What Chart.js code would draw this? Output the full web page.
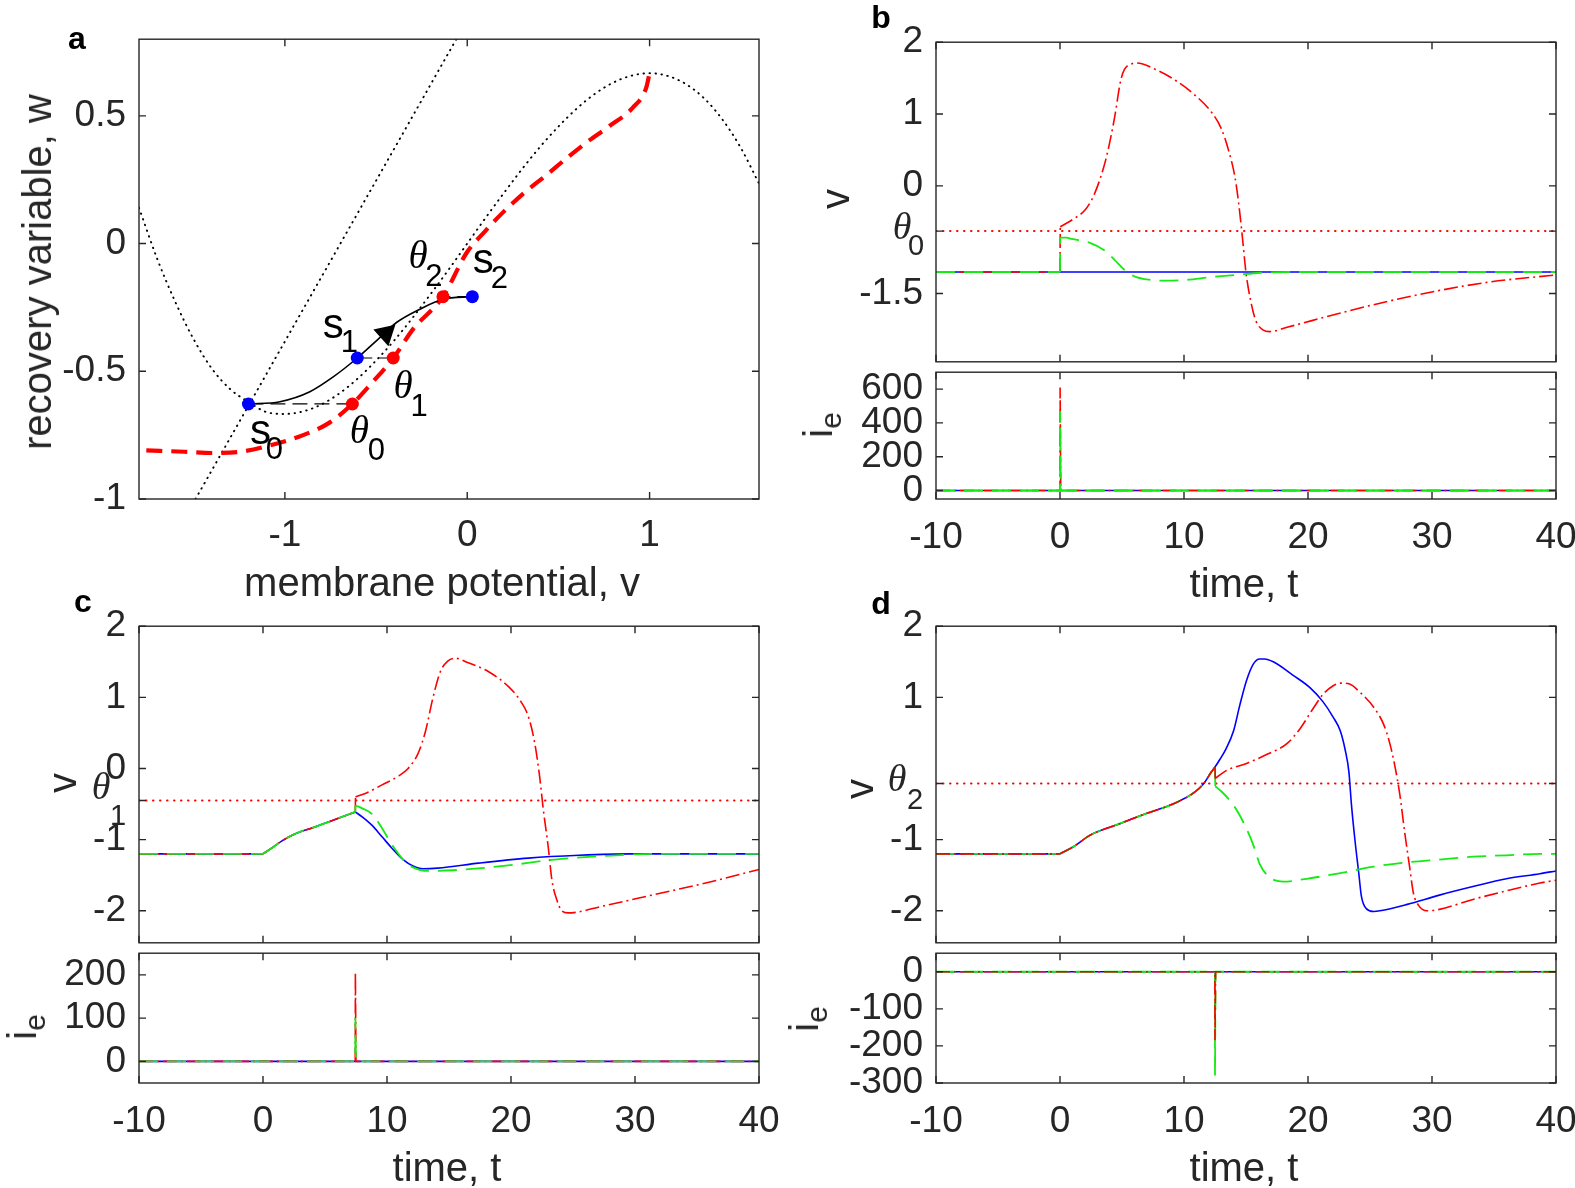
<!DOCTYPE html>
<html>
<head>
<meta charset="utf-8">
<script src="https://cdn.jsdelivr.net/npm/chart.js@4/dist/chart.umd.min.js"></script>
<style>
body{margin:0;background:#fff;width:1575px;height:1188px;position:relative;overflow:hidden;font-family:"Liberation Sans",Arial,sans-serif;color:#262626}
canvas{position:absolute}
.t{position:absolute;font-size:40px;line-height:1;white-space:nowrap;transform:translate(-50%,-50%)}
.r{transform:translate(-50%,-50%) rotate(-90deg)}
.t sub{font-size:30px;vertical-align:-9px}
.lt{position:absolute;font-weight:bold;font-size:32px;line-height:1;color:#000;transform:translate(-50%,-50%)}
</style>
</head>
<body>
<canvas id="ca"></canvas>
<canvas id="cbv"></canvas><canvas id="cbi"></canvas>
<canvas id="ccv"></canvas><canvas id="cci"></canvas>
<canvas id="cdv"></canvas><canvas id="cdi"></canvas>

<div class="lt" style="left:77px;top:38px">a</div>
<div class="lt" style="left:881px;top:17px">b</div>
<div class="lt" style="left:83px;top:601px">c</div>
<div class="lt" style="left:881px;top:603px">d</div>

<div class="t" style="left:442px;top:582px">membrane potential, v</div>
<div class="t r" style="left:37px;top:272px">recovery variable, w</div>

<div class="t r" style="left:835px;top:199px">v</div>
<div class="t r" style="left:822px;top:425px">i<sub>e</sub></div>
<div class="t" style="left:1244px;top:583px">time, t</div>

<div class="t r" style="left:62px;top:783px">v</div>
<div class="t r" style="left:26px;top:1027px">i<sub>e</sub></div>
<div class="t" style="left:447px;top:1167px">time, t</div>

<div class="t r" style="left:859px;top:789px">v</div>
<div class="t r" style="left:808px;top:1019px">i<sub>e</sub></div>
<div class="t" style="left:1244px;top:1167px">time, t</div>

<script>
// ---- panel a: phase plane ----
var cubicV = [-1.8,-1.7,-1.6,-1.5,-1.4,-1.3,-1.2,-1.1,-1.0,-0.9,-0.8,-0.7,-0.6,-0.5,-0.4,-0.3,-0.2,-0.1,0,0.1,0.2,0.3,0.4,0.5,0.6,0.7,0.8,0.9,1.0,1.1,1.2,1.3,1.4,1.5,1.6];
var cubicW = [0.14,-0.06,-0.23,-0.375,-0.49,-0.57,-0.62,-0.66,-0.667,-0.657,-0.63,-0.586,-0.528,-0.458,-0.379,-0.291,-0.197,-0.1,0,0.1,0.197,0.291,0.379,0.458,0.528,0.586,0.63,0.657,0.667,0.656,0.624,0.568,0.485,0.375,0.235];
var linNullV = [-1.49, -0.06];
var linNullW = [-1, 0.8];
var thrV = [-1.76,-1.55,-1.39,-1.245,-1.08,-0.9,-0.753,-0.63,-0.516,-0.405,-0.297,-0.133,-0.004,0.1,0.2,0.315,0.434,0.543,0.662,0.78,0.908,0.981,1.0];
var thrW = [-0.81,-0.815,-0.82,-0.815,-0.79,-0.75,-0.7,-0.628,-0.54,-0.448,-0.335,-0.208,-0.037,0.05,0.125,0.2,0.268,0.333,0.4,0.46,0.532,0.609,0.667];
var trajV = [-1.2,-1.027,-0.863,-0.735,-0.603,-0.497,-0.388,-0.26,-0.133,0.028];
var trajW = [-0.628,-0.619,-0.58,-0.522,-0.448,-0.38,-0.309,-0.257,-0.218,-0.208];
var sV = [-1.2, -0.603, 0.028];
var sW = [-0.628, -0.448, -0.208];
var thV = [-0.63, -0.406, -0.133];
var thW = [-0.628, -0.448, -0.208];
var arrowV = [-0.447], arrowW = [-0.352];

// ---- panel b ----
var bTheta = -0.63;
var bTBlue = [-10, 40], bVBlue = [-1.2, -1.2];
var bTGreen = [-10,0,0.02,0.5,0.94,2.37,3.6,4.4,5.2,6.0,7.3,8.5,10.1,12.2,14.2,16.2,18.3,40];
var bVGreen = [-1.2,-1.2,-0.72,-0.72,-0.74,-0.79,-0.9,-1.03,-1.17,-1.26,-1.31,-1.32,-1.31,-1.27,-1.24,-1.21,-1.2,-1.2];
var bTRed = [-10,0,0.02,1.1,2,2.6,3.2,3.8,4.4,4.9,5.2,5.8,6.2,7.7,9.3,10.9,12.2,13,13.6,14.1,14.4,14.7,15,15.4,15.8,16.4,16.9,18.3,22.4,26.4,30.5,34.6,40];
var bVRed = [-1.2,-1.2,-0.57,-0.46,-0.34,-0.18,0.08,0.44,0.95,1.47,1.62,1.7,1.71,1.62,1.47,1.26,1.03,0.8,0.49,0.13,-0.23,-0.7,-1.21,-1.62,-1.88,-2.01,-2.03,-1.97,-1.78,-1.61,-1.46,-1.34,-1.24];
var bSpikeT = [-10, 0, 0.01, 0.06, 40];
var bIeRed = [0, 0, 610, 0, 0];
var bIeGreen = [0, 0, 470, 0, 0];
var bIeBlue = [0, 0, 0, 0, 0];

// ---- panel c ----
var cTheta = -0.45;
var cTBlue = [-10,0,0.7,1.5,2.7,3.9,5.6,7.44,8,8.8,9.6,10.4,11.3,12.1,12.9,14.1,17.4,21.4,25.5,29.6,40];
var cVBlue = [-1.2,-1.2,-1.12,-1.02,-0.91,-0.84,-0.73,-0.61,-0.68,-0.8,-0.96,-1.12,-1.28,-1.37,-1.41,-1.4,-1.33,-1.26,-1.22,-1.2,-1.2];
var cTGreen = [-10,0,0.7,1.5,2.7,3.9,5.6,7.44,7.46,8,8.8,9.6,10.4,11.3,12.1,13.3,15.3,19.4,23.5,27.5,31.6,40];
var cVGreen = [-1.2,-1.2,-1.12,-1.02,-0.91,-0.84,-0.73,-0.61,-0.52,-0.56,-0.64,-0.84,-1.07,-1.28,-1.39,-1.44,-1.43,-1.37,-1.28,-1.23,-1.2,-1.2];
var cTRed = [-10,0,0.7,1.5,2.7,3.9,5.6,7.44,7.46,8.4,9.6,10.9,11.7,12.5,13.1,13.7,14.3,14.9,15.5,16.5,18.2,19.8,20.8,21.4,21.9,22.3,22.6,23,23.3,23.7,24.1,24.6,27.5,31.6,35.7,40];
var cVRed = [-1.2,-1.2,-1.12,-1.02,-0.91,-0.84,-0.73,-0.61,-0.4,-0.34,-0.23,-0.11,0,0.21,0.52,0.99,1.36,1.51,1.55,1.49,1.36,1.15,0.94,0.73,0.37,-0.1,-0.57,-1.1,-1.57,-1.85,-2.0,-2.03,-1.93,-1.77,-1.61,-1.42];
var cSpikeT = [-10, 7.44, 7.45, 7.5, 40];
var cIeRed = [0, 0, 205, 0, 0];
var cIeGreen = [0, 0, 100, 0, 0];
var cIeBlue = [0, 0, 0, 0, 0];

// ---- panel d ----
var dTheta = -0.21;
var dTPre = [-10,0,1.08,2.4,4.6,7,9.1,10.8,11.6,12.2,12.5];
var dVPre = [-1.2,-1.2,-1.1,-0.94,-0.79,-0.63,-0.5,-0.34,-0.21,-0.05,0.02];
var dTBlue = dTPre.concat([12.9,13.4,14,14.5,15.05,15.6,16.1,16.5,17.2,18.8,20.2,21.2,22,22.6,23,23.3,23.5,23.8,24.1,24.3,24.7,25.3,25.8,28,30.6,33.3,36,38.7,40]);
var dVBlue = dVPre.concat([0.13,0.28,0.53,0.89,1.24,1.47,1.54,1.54,1.5,1.31,1.13,0.94,0.73,0.53,0.26,-0.05,-0.5,-1.03,-1.48,-1.79,-1.97,-2.01,-2.0,-1.91,-1.78,-1.66,-1.55,-1.48,-1.44]);
var dTRed = dTPre.concat([12.52,13.4,15.1,16.7,18.3,19.4,20.4,21.2,22,22.6,23.3,24.2,25.3,26.1,26.6,27,27.4,27.8,28.2,28.5,28.9,29.6,30.6,33.3,36,38.7,40]);
var dVRed = dVPre.concat([-0.14,-0.03,0.075,0.2,0.35,0.57,0.84,1.04,1.16,1.2,1.19,1.07,0.86,0.62,0.35,0.04,-0.36,-0.9,-1.39,-1.75,-1.92,-2.0,-1.98,-1.84,-1.72,-1.61,-1.57]);
var dTGreen = dTPre.concat([12.52,13,13.7,14.4,15.05,15.6,16.1,16.7,17.3,18,19.9,22.6,25.3,28,30.6,33.3,36,38.7,40]);
var dVGreen = dVPre.concat([-0.25,-0.32,-0.45,-0.63,-0.85,-1.08,-1.34,-1.5,-1.57,-1.59,-1.55,-1.47,-1.38,-1.32,-1.28,-1.24,-1.22,-1.2,-1.2]);
var dSpikeT = [-10, 12.49, 12.5, 12.55, 40];
var dIeRed = [0, 0, -185, 0, 0];
var dIeGreen = [0, 0, -280, 0, 0];
var dIeBlue = [0, 0, 0, 0, 0];

// ---- tick values ----
var timeTicks = [-10, 0, 10, 20, 30, 40];
var aVTicks = [-1, 0, 1], aWTicks = [-1, -0.5, 0, 0.5];
var bVTicks = [-1.5, bTheta, 0, 1, 2], bIeTicks = [0, 200, 400, 600];
var cVTicks = [-2, -1, cTheta, 0, 1, 2], cIeTicks = [0, 100, 200];
var dVTicks = [-2, -1, dTheta, 1, 2], dIeTicks = [-300, -200, -100, 0];

var RED = '#ff0000', GREEN = 'rgb(20,235,20)', BLUE = '#0000ff', INK = '#262626';
Chart.defaults.font.family = '"Liberation Sans", Arial, sans-serif';
Chart.defaults.font.size = 37;
Chart.defaults.color = INK;

function pts(xs, ys) {
    return xs.map(function(x, i) { return {x: x, y: ys[i]}; });
}
function series(xs, ys, color, dash, width, extra) {
    return Object.assign({
        data: pts(xs, ys), showLine: true, borderColor: color, backgroundColor: color,
        borderWidth: width, borderDash: dash, pointRadius: 0, fill: false,
        cubicInterpolationMode: 'monotone'
    }, extra || {});
}
// split a trace at the given indices so jumps and corners stay sharp
function pieces(xs, ys, cuts, color, dash, width) {
    var out = [], start = 0;
    cuts.concat([xs.length - 1]).forEach(function(end) {
        out.push(series(xs.slice(start, end + 1), ys.slice(start, end + 1), color, dash, width));
        start = end;
    });
    return out;
}
function spike(xs, ys, color, dash, width) {
    return series(xs, ys, color, dash, width, {cubicInterpolationMode: 'default', tension: 0});
}
var dashDot = [14, 4, 2, 4], dashed = [19, 9], dotted = [0.5, 6.5];

// box, inward ticks, theta tick labels and annotations
var framePlugin = {
    id: 'frame',
    afterDraw: function(chart, args, o) {
        var ctx = chart.ctx, a = chart.chartArea, xs = chart.scales.x, ys = chart.scales.y;
        ctx.save();
        ctx.strokeStyle = INK;
        ctx.lineWidth = 1.4;
        ctx.strokeRect(a.left, a.top, a.right - a.left, a.bottom - a.top);
        ctx.beginPath();
        xs.ticks.forEach(function(t) {
            var p = xs.getPixelForValue(t.value);
            ctx.moveTo(p, a.bottom); ctx.lineTo(p, a.bottom - 7);
            ctx.moveTo(p, a.top); ctx.lineTo(p, a.top + 7);
        });
        ys.ticks.forEach(function(t) {
            var p = ys.getPixelForValue(t.value);
            ctx.moveTo(a.left, p); ctx.lineTo(a.left + 7, p);
            ctx.moveTo(a.right, p); ctx.lineTo(a.right - 7, p);
        });
        ctx.stroke();
        ctx.textAlign = 'center';
        ctx.textBaseline = 'middle';
        ctx.fillStyle = INK;
        if (o.theta !== undefined) {
            var p = ys.getPixelForValue(o.theta);
            ctx.font = 'italic 38px "Liberation Serif", serif';
            ctx.fillText('\u03B8', a.left + o.tdx, p + o.tdy);
            ctx.font = '29px "Liberation Sans", sans-serif';
            ctx.fillText(o.sub, a.left + o.sdx, p + o.sdy);
        }
        ctx.fillStyle = '#000';
        (o.notes || []).forEach(function(n) {
            var px = xs.getPixelForValue(n.x), py = ys.getPixelForValue(n.y);
            ctx.font = n.italic ? 'italic 39px "Liberation Serif", serif' : '42px "Liberation Sans", sans-serif';
            ctx.fillText(n.glyph, px + n.gx, py + n.gy);
            ctx.font = '31px "Liberation Sans", sans-serif';
            ctx.fillText(n.sub, px + n.sx, py + n.sy);
        });
        ctx.restore();
    }
};

function axes(id, box, cfg) {
    var padL = 130, padR = 45, padT = 30, padB = cfg.xLabels ? 75 : 30;
    var w = box.R - box.L + padL + padR, h = box.B - box.T + padT + padB;
    var c = document.getElementById(id);
    c.width = w; c.height = h;
    c.style.width = w + 'px'; c.style.height = h + 'px';
    c.style.left = (box.L - padL) + 'px'; c.style.top = (box.T - padT) + 'px';
    return new Chart(c, {
        type: 'scatter',
        data: { datasets: cfg.datasets },
        options: {
            responsive: false, animation: false, devicePixelRatio: 1,
            layout: { padding: { top: padT, right: padR, left: 0, bottom: cfg.xLabels ? 0 : padB } },
            plugins: { legend: { display: false }, tooltip: { enabled: false }, frame: cfg.frame || {} },
            scales: {
                x: {
                    type: 'linear', min: cfg.xMin, max: cfg.xMax,
                    grid: { display: false, drawTicks: false }, border: { display: false },
                    afterBuildTicks: function(s) { s.ticks = cfg.xTicks.map(function(v) { return {value: v}; }); },
                    afterFit: function(s) { s.height = cfg.xLabels ? padB : 0; },
                    ticks: { display: !!cfg.xLabels, autoSkip: false, maxRotation: 0, padding: cfg.xPad || 17,
                             callback: function(v) { return String(v); } }
                },
                y: {
                    type: 'linear', min: cfg.yMin, max: cfg.yMax,
                    grid: { display: false, drawTicks: false }, border: { display: false },
                    afterBuildTicks: function(s) { s.ticks = cfg.yTicks.map(function(v) { return {value: v}; }); },
                    afterFit: function(s) { s.width = padL; },
                    ticks: { autoSkip: false, padding: 13,
                             callback: function(v) { return (cfg.frame && v === cfg.frame.theta) ? '' : String(v); } }
                }
            }
        },
        plugins: [framePlugin]
    });
}

window.onload = function() {
    // a
    axes('ca', {L: 139, R: 759, T: 34, B: 499}, {
        xMin: -1.8, xMax: 1.6, yMin: -1, yMax: 0.8, xTicks: aVTicks, yTicks: aWTicks, xLabels: true, xPad: 15,
        datasets: [
            series(sV, sW, BLUE, [], 0, {showLine: false, pointRadius: 6.5, pointHoverRadius: 6.5}),
            series(thV, thW, RED, [], 0, {showLine: false, pointRadius: 6.5, pointHoverRadius: 6.5}),
            series(arrowV, arrowW, '#000', [], 0, {showLine: false, pointStyle: 'triangle', pointRadius: 13, rotation: 48}),
            series(trajV, trajW, '#000', [], 1.6),
            series([sV[0], thV[0]], [sW[0], thW[0]], '#000', [15, 7], 1.2),
            series([sV[1], thV[1]], [sW[1], thW[1]], '#000', [15, 7], 1.2),
            series([sV[2], thV[2]], [sW[2], thW[2]], '#000', [15, 7], 1.2),
            series(thrV, thrW, RED, [16, 9], 4.2),
            series(cubicV, cubicW, '#000', [0.5, 5.5], 1.9, {borderCapStyle: 'round'}),
            series(linNullV, linNullW, '#000', [0.5, 5.5], 1.9, {borderCapStyle: 'round'})
        ],
        frame: { notes: [
            {x: sV[0], y: sW[0], glyph: 's', sub: '0', gx: 12, gy: 28, sx: 26, sy: 46},
            {x: thV[0], y: thW[0], glyph: '\u03B8', italic: true, sub: '0', gx: 7, gy: 29, sx: 24, sy: 47},
            {x: sV[1], y: sW[1], glyph: 's', sub: '1', gx: -24, gy: -32, sx: -8, sy: -15},
            {x: thV[1], y: thW[1], glyph: '\u03B8', italic: true, sub: '1', gx: 10, gy: 30, sx: 26, sy: 49},
            {x: thV[2], y: thW[2], glyph: '\u03B8', italic: true, sub: '2', gx: -25, gy: -39, sx: -9, sy: -19},
            {x: sV[2], y: sW[2], glyph: 's', sub: '2', gx: 11, gy: -35, sx: 27, sy: -17}
        ] }
    });

    // b
    axes('cbv', {L: 936, R: 1556, T: 37, B: 367}, {
        xMin: -10, xMax: 40, yMin: -2.45, yMax: 2, xTicks: timeTicks, yTicks: bVTicks,
        datasets: [].concat(
            pieces(bTGreen, bVGreen, [1, 2], GREEN, dashed, 1.8),
            pieces(bTRed, bVRed, [1, 2], RED, dashDot, 1.6),
            [series(bTBlue, bVBlue, BLUE, [], 1.6),
             series([-10, 40], [bTheta, bTheta], RED, dotted, 2, {borderCapStyle: 'round'})]
        ),
        frame: { theta: bTheta, sub: '0', tdx: -34, tdy: -2, sdx: -20, sdy: 16 }
    });
    axes('cbi', {L: 936, R: 1556, T: 367, B: 499}, {
        xMin: -10, xMax: 40, yMin: -50, yMax: 700, xTicks: timeTicks, yTicks: bIeTicks, xLabels: true,
        datasets: [
            spike(bSpikeT, bIeGreen, GREEN, dashed, 1.8),
            spike(bSpikeT, bIeRed, RED, dashDot, 1.6),
            spike(bSpikeT, bIeBlue, BLUE, [], 1.6)
        ]
    });

    // c
    axes('ccv', {L: 139, R: 759, T: 621, B: 948}, {
        xMin: -10, xMax: 40, yMin: -2.45, yMax: 2, xTicks: timeTicks, yTicks: cVTicks,
        datasets: [].concat(
            pieces(cTGreen, cVGreen, [1, 7, 8], GREEN, dashed, 1.8),
            pieces(cTRed, cVRed, [1, 7, 8], RED, dashDot, 1.6),
            pieces(cTBlue, cVBlue, [1, 7], BLUE, [], 1.6),
            [series([-10, 40], [cTheta, cTheta], RED, dotted, 2, {borderCapStyle: 'round'})]
        ),
        frame: { theta: cTheta, sub: '1', tdx: -38, tdy: -11, sdx: -21, sdy: 16 }
    });
    axes('cci', {L: 139, R: 759, T: 948, B: 1083}, {
        xMin: -10, xMax: 40, yMin: -50, yMax: 250, xTicks: timeTicks, yTicks: cIeTicks, xLabels: true,
        datasets: [
            spike(cSpikeT, cIeGreen, GREEN, dashed, 1.8),
            spike(cSpikeT, cIeRed, RED, dashDot, 1.6),
            spike(cSpikeT, cIeBlue, BLUE, [], 1.6)
        ]
    });

    // d
    axes('cdv', {L: 936, R: 1556, T: 621, B: 948}, {
        xMin: -10, xMax: 40, yMin: -2.45, yMax: 2, xTicks: timeTicks, yTicks: dVTicks,
        datasets: [].concat(
            pieces(dTRed, dVRed, [1, 10, 11], RED, dashDot, 1.6),
            pieces(dTGreen, dVGreen, [1, 10, 11], GREEN, dashed, 1.8),
            pieces(dTBlue, dVBlue, [1], BLUE, [], 1.6),
            [series([-10, 40], [dTheta, dTheta], RED, dotted, 2, {borderCapStyle: 'round'})]
        ),
        frame: { theta: dTheta, sub: '2', tdx: -39, tdy: -2, sdx: -21, sdy: 18 }
    });
    axes('cdi', {L: 936, R: 1556, T: 948, B: 1083}, {
        xMin: -10, xMax: 40, yMin: -300, yMax: 50, xTicks: timeTicks, yTicks: dIeTicks, xLabels: true,
        datasets: [
            spike(dSpikeT, dIeRed, RED, dashDot, 1.6),
            spike(dSpikeT, dIeGreen, GREEN, dashed, 1.8),
            spike(dSpikeT, dIeBlue, BLUE, [], 1.6)
        ]
    });
};
</script>
</body>
</html>
